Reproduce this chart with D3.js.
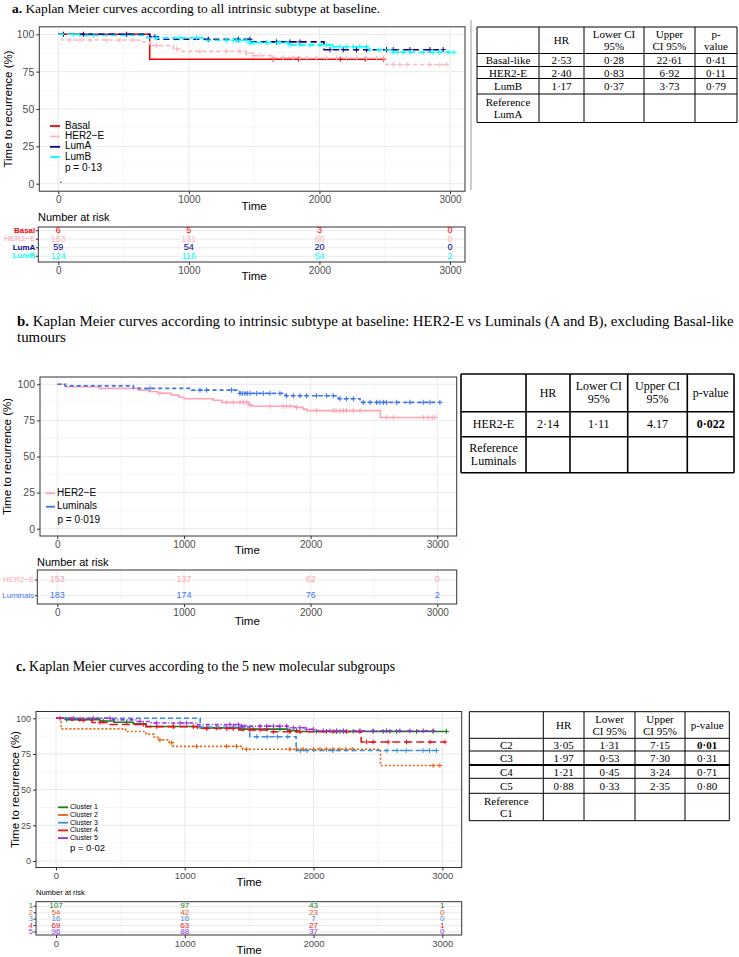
<!DOCTYPE html>
<html><head><meta charset="utf-8">
<script src="https://cdn.jsdelivr.net/npm/d3@7"></script>
<style>body{margin:0;background:#fff}svg{display:block}</style>
</head><body>
<svg id="fig" width="739" height="957"></svg>
<script>
// ---------------- DATA ----------------
const timeTicks = [0, 1000, 2000, 3000];
const timeMinor = [500, 1500, 2500];
const survTicks = [0, 25, 50, 75, 100];
const survMinor = [12.5, 37.5, 62.5, 87.5];

// Panel a
const aGroups = ["Basal", "HER2\u2212E", "LumA", "LumB"];
const aBasalSteps = [[0,100],[700,83.3]];
const aBasalCensor = [1645,1840,2160,2350,2490];
const aHer2Steps = [[0,100],[30,96.2],[620,95.0],[700,92.4],[880,90.2],[930,88.6],[1440,87.3],[1490,85.7],[1645,84.5],[1850,84.0],[2510,79.8]];
const aHer2Censor = [90,166,243,370,472,574,753,906,1085,1289,1391,1442,1493,1544,1646,1723,1799,1850,1902,1978,2055,2131,2208,2284,2361,2438,2489,2565,2616,2667,2846,2922,2973];
const aLumASteps = [[0,100],[700,98.3],[765,96.7],[1480,94.9],[2035,89.7]];
const aLumACensor = [39,192,524,740,1149,1379,1468,1672,1774,1851,2081,2182,2284,2361,2514,2565,2693,2846,2948];
const aLumBSteps = [[0,100],[160,99.2],[680,97.6],[1110,96.0],[1455,94.4],[1760,92.9],[2100,91.7],[2380,89.5],[2560,88.0]];
const aLumBCensor = [115,268,753,931,1059,1289,1340,1365,1391,1442,1470,1500,1595,1697,1774,1850,1927,2004,2055,2106,2157,2208,2259,2310,2361,2463,2565,2600,2642,2693,2795,2871,2922,2986,3030];
const aRiskBasal = [6,5,3,0];
const aRiskHer2 = [153,131,60,0];
const aRiskLumA = [59,54,20,0];
const aRiskLumB = [124,116,54,2];
const aPval = "p = 0\u00b713";

// Panel b
const bGroups = ["HER2\u2212E", "Luminals"];
const bHer2Steps = [[0,100],[70,98.3],[330,97.2],[640,96.0],[720,95.0],[790,93.8],[900,92.5],[960,91.0],[1000,90.0],[1230,89.0],[1300,87.5],[1510,85.7],[1540,84.8],[1880,84.0],[1940,82.8],[1970,81.8],[2550,77.0]];
const bHer2Censor = [810,1337,1389,1442,1470,1495,1521,1679,1784,1810,1837,1889,2047,2179,2200,2232,2260,2284,2337,2390,2600,2652,2889,2929,2960,2981];
const bLumSteps = [[0,100],[60,98.9],[600,97.2],[1060,96.0],[1440,93.7],[1800,92.1],[2220,90.0],[2390,87.5]];
const bLumCensor = [732,1126,1179,1376,1442,1460,1481,1500,1521,1574,1626,1679,1758,1810,1863,1916,1968,2047,2126,2179,2232,2284,2337,2416,2469,2521,2547,2574,2600,2679,2784,2889,2942,3021];
const bRiskHer2 = [153,137,62,0];
const bRiskLum = [183,174,76,2];
const bPval = "p = 0\u00b7019";

// Panel c
const cGroups = ["Cluster 1","Cluster 2","Cluster 3","Cluster 4","Cluster 5"];
const cRiskLabels = ["1","2","3","4","5"];
const c1Steps = [[0,100],[80,99.1],[340,98.1],[450,97.2],[600,96.2],[700,94.3],[1120,93.3],[1430,92.4],[1800,91.4],[1880,90.8]];
const c1Censor = [83,186,367,549,911,1170,1247,1377,1454,1532,1636,1739,1817,1868,2024,2101,2153,2179,2205,2231,2256,2308,2360,2463,2541,2593,2645,2800,2929,3033];
const c2Steps = [[0,100],[40,92.6],[540,90.7],[700,88.9],[760,86.9],[790,84.9],[880,82.9],[910,80.3],[1450,78.3],[2520,66.9]];
const c2Censor = [807,898,1092,1325,1402,1480,1817,1868,1920,2000,2050,2100,2150,2200,2250,2300,2929,2981];
const c3Steps = [[0,100],[1120,93.8],[1505,87.1],[1865,77.4]];
const c3Censor = [1560,1640,1720,1800,1900,1950,2150,2570,2650,2720,2850,2900,2955];
const c4Steps = [[0,100],[120,98.6],[280,97.1],[420,95.7],[700,94.2],[1100,92.8],[1420,91.9],[1650,90.6],[2370,83.4]];
const c4Censor = [31,212,342,678,782,911,1066,1170,1325,1377,1506,1584,1688,1817,1895,2412,2463,2580,2722,2904,3021];
const c5Steps = [[0,100],[420,98.9],[630,97.8],[740,96.7],[1090,95.6],[1440,94.5],[1800,93.4],[1940,92.3],[2000,91.3]];
const c5Censor = [134,290,419,652,782,963,1015,1351,1416,1441,1467,1584,1636,1688,1739,1791,1843,1895,1946,1998,2075,2127,2179,2231,2360,2463,2567,2670,2748,2852,2929];
const cRisk1 = [107,97,43,1];
const cRisk2 = [54,42,23,0];
const cRisk3 = [16,16,7,0];
const cRisk4 = [69,63,27,1];
const cRisk5 = [96,88,37,0];
const cPval = "p = 0\u00b702";

// Tables
const tabAHeader = ["", ["HR"], ["Lower CI","95%"], ["Upper","CI 95%"], ["p-","value"]];
const tabARows = [
  [["Basal-like"],["2\u00b753"],["0\u00b728"],["22\u00b761"],["0\u00b741"]],
  [["HER2-E"],["2\u00b740"],["0\u00b783"],["6\u00b792"],["0\u00b711"]],
  [["LumB"],["1\u00b717"],["0\u00b737"],["3\u00b773"],["0\u00b779"]],
  [["Reference","LumA"],[""],[""],[""],[""]]
];
const tabBHeader = ["", ["HR"], ["Lower CI","95%"], ["Upper CI","95%"], ["p-value"]];
const tabBRows = [
  [["HER2-E"],["2\u00b714"],["1\u00b711"],["4.17"],["0\u00b7022"]],
  [["Reference","Luminals"],[""],[""],[""],[""]]
];
const tabCHeader = ["", ["HR"], ["Lower","CI 95%"], ["Upper","CI 95%"], ["p-value"]];
const tabCRows = [
  [["C2"],["3\u00b705"],["1\u00b731"],["7\u00b715"],["0\u00b701"]],
  [["C3"],["1\u00b797"],["0\u00b753"],["7\u00b730"],["0\u00b731"]],
  [["C4"],["1\u00b721"],["0\u00b745"],["3\u00b724"],["0\u00b771"]],
  [["C5"],["0\u00b788"],["0\u00b733"],["2\u00b735"],["0\u00b780"]],
  [["Reference","C1"],[""],[""],[""],[""]]
];

// ---------------- DRAWING ----------------
const SANS = "'Liberation Sans', Arial, Helvetica, sans-serif";
const SERIF = "'Liberation Serif', 'Times New Roman', serif";
const svg = d3.select("#fig");

function survAt(steps, t) {
  let s = steps[0][1];
  for (const [tt, ss] of steps) { if (tt <= t) s = ss; }
  return s;
}

function drawKM(cfg) {
  const g = svg.append("g");
  const x = d3.scaleLinear().domain([0, 3000]).range([cfg.x0, cfg.x3000]);
  const y = d3.scaleLinear().domain([0, 100]).range([cfg.y0, cfg.y100]);
  const L = cfg.left, R = cfg.right, T = cfg.top, B = cfg.bottom;

  // grid
  g.selectAll(".vmin").data(timeMinor).join("line")
    .attr("x1", d => x(d)).attr("x2", d => x(d)).attr("y1", T).attr("y2", B)
    .attr("stroke", "#F0F0F0").attr("stroke-width", 0.6);
  g.selectAll(".hmin").data(survMinor).join("line")
    .attr("x1", L).attr("x2", R).attr("y1", d => y(d)).attr("y2", d => y(d))
    .attr("stroke", "#F0F0F0").attr("stroke-width", 0.6);
  g.selectAll(".vmaj").data(timeTicks).join("line")
    .attr("x1", d => x(d)).attr("x2", d => x(d)).attr("y1", T).attr("y2", B)
    .attr("stroke", "#E6E6E6").attr("stroke-width", 0.9);
  g.selectAll(".hmaj").data(survTicks).join("line")
    .attr("x1", L).attr("x2", R).attr("y1", d => y(d)).attr("y2", d => y(d))
    .attr("stroke", "#E6E6E6").attr("stroke-width", 0.9);

  const line = d3.line().x(d => x(d[0])).y(d => y(d[1])).curve(d3.curveStepAfter);
  cfg.curves.forEach(c => {
    const end = Math.max(d3.max(c.censor), c.steps[c.steps.length - 1][0]);
    const pts = c.steps.concat([[end, c.steps[c.steps.length - 1][1]]]);
    g.append("path").attr("d", line(pts)).attr("fill", "none")
      .attr("stroke", c.color).attr("stroke-width", cfg.lw)
      .attr("stroke-dasharray", c.dash || null);
    g.selectAll(null).data(c.censor).join("path")
      .attr("transform", d => `translate(${x(d)},${y(survAt(c.steps, d))})`)
      .attr("d", `M${-cfg.cs},0H${cfg.cs}M0,${-cfg.cs}V${cfg.cs}`)
      .attr("stroke", c.color).attr("stroke-width", 1);
  });

  if (cfg.originDot) {
    g.append("circle").attr("cx", x(20)).attr("cy", y(1)).attr("r", 0.7).attr("fill", "#333");
  }

  // border
  g.append("rect").attr("x", L).attr("y", T).attr("width", R - L).attr("height", B - T)
    .attr("fill", "none").attr("stroke", "#333").attr("stroke-width", 1);

  // axes
  const ay = g.append("g").attr("transform", `translate(${L},0)`)
    .call(d3.axisLeft(y).tickValues(survTicks).tickSize(3).tickPadding(2));
  ay.select(".domain").remove();
  ay.selectAll("line").attr("stroke", "#333");
  ay.selectAll("text").attr("font-family", SANS).attr("font-size", cfg.ytickFs).attr("fill", "#4D4D4D");

  const ax = g.append("g").attr("transform", `translate(0,${B})`)
    .call(d3.axisBottom(x).tickValues(timeTicks).tickSize(3).tickPadding(2).tickFormat(d3.format("d")));
  ax.select(".domain").remove();
  ax.selectAll("line").attr("stroke", "#333");
  ax.selectAll("text").attr("font-family", SANS).attr("font-size", cfg.xtickFs).attr("fill", "#4D4D4D");

  g.append("text").attr("x", (cfg.x0 + cfg.x3000) / 2).attr("y", cfg.timeY)
    .attr("text-anchor", "middle").attr("dominant-baseline", "middle")
    .attr("font-family", SANS).attr("font-size", 11.5).text("Time");

  g.append("text").attr("transform", `translate(${cfg.ylabX},${(T + B) / 2}) rotate(-90)`)
    .attr("text-anchor", "middle").attr("dominant-baseline", "middle")
    .attr("font-family", SANS).attr("font-size", cfg.ylabFs).text("Time to recurrence (%)");

  // legend
  const lg = cfg.legend;
  cfg.curves.forEach((c, i) => {
    const yy = lg.ys[i];
    g.append("line").attr("x1", lg.x1).attr("x2", lg.x2).attr("y1", yy).attr("y2", yy)
      .attr("stroke", c.color).attr("stroke-width", lg.lw);
    g.append("text").attr("x", lg.tx).attr("y", yy).attr("dominant-baseline", "middle")
      .attr("font-family", SANS).attr("font-size", lg.fs).text(c.name);
  });
  g.append("text").attr("x", lg.px).attr("y", lg.py).attr("dominant-baseline", "middle")
    .attr("font-family", SANS).attr("font-size", lg.pfs).text(cfg.pval);

  // risk table
  const rk = cfg.risk;
  g.append("text").attr("x", rk.hx).attr("y", rk.hy).attr("dominant-baseline", "middle")
    .attr("font-family", SANS).attr("font-size", rk.hfs).text("Number at risk");
  const ry = d3.scalePoint().domain(cfg.curves.map((c, i) => i)).range([rk.r0, rk.r1]);
  timeMinor.forEach(t => g.append("line").attr("x1", x(t)).attr("x2", x(t)).attr("y1", rk.top).attr("y2", rk.bottom)
    .attr("stroke", "#F0F0F0").attr("stroke-width", 0.6));
  timeTicks.forEach(t => g.append("line").attr("x1", x(t)).attr("x2", x(t)).attr("y1", rk.top).attr("y2", rk.bottom)
    .attr("stroke", "#E6E6E6").attr("stroke-width", 0.9));
  cfg.curves.forEach((c, i) => {
    g.append("line").attr("x1", rk.left).attr("x2", R).attr("y1", ry(i)).attr("y2", ry(i))
      .attr("stroke", "#E6E6E6").attr("stroke-width", 0.9);
  });
  g.append("rect").attr("x", rk.left).attr("y", rk.top).attr("width", R - rk.left).attr("height", rk.bottom - rk.top)
    .attr("fill", "none").attr("stroke", "#333").attr("stroke-width", 1);
  cfg.curves.forEach((c, i) => {
    g.selectAll(null).data(c.risk).join("text")
      .attr("x", (d, j) => x(timeTicks[j])).attr("y", ry(i))
      .attr("text-anchor", "middle").attr("dominant-baseline", "middle")
      .attr("font-family", SANS).attr("font-size", rk.nfs).attr("fill", c.color).text(d => d);
    g.append("line").attr("x1", rk.left - 2.5).attr("x2", rk.left).attr("y1", ry(i)).attr("y2", ry(i))
      .attr("stroke", "#333");
    g.append("text").attr("x", rk.left - 3).attr("y", ry(i)).attr("text-anchor", "end")
      .attr("dominant-baseline", "middle").attr("font-family", SANS).attr("font-size", rk.lfs)
      .attr("font-weight", rk.lfw || "normal")
      .attr("fill", c.color).text(c.riskLabel || c.name);
  });
  const rax = g.append("g").attr("transform", `translate(0,${rk.bottom})`)
    .call(d3.axisBottom(x).tickValues(timeTicks).tickSize(3).tickPadding(2).tickFormat(d3.format("d")));
  rax.select(".domain").remove();
  rax.selectAll("line").attr("stroke", "#333");
  rax.selectAll("text").attr("font-family", SANS).attr("font-size", cfg.xtickFs).attr("fill", "#4D4D4D");
  g.append("text").attr("x", (cfg.x0 + cfg.x3000) / 2).attr("y", rk.timeY)
    .attr("text-anchor", "middle").attr("dominant-baseline", "middle")
    .attr("font-family", SANS).attr("font-size", 11.5).text("Time");
}

function drawTable(cfg, header, rows) {
  const g = svg.append("g").attr("font-family", SERIF).attr("font-size", cfg.fs);
  const cols = cfg.cols, rws = cfg.rows;
  const all = [header].concat(rows);
  all.forEach((row, ri) => {
    row.forEach((cell, ci) => {
      const lines = Array.isArray(cell) ? cell : [cell];
      const cx = (cols[ci] + cols[ci + 1]) / 2;
      const cy = (rws[ri] + rws[ri + 1]) / 2;
      const lh = cfg.fs * 1.1;
      lines.forEach((t, k) => {
        g.append("text").attr("x", cx).attr("y", cy + (k - (lines.length - 1) / 2) * lh)
          .attr("text-anchor", "middle").attr("dominant-baseline", "central")
          .attr("font-weight", (cfg.bold && cfg.bold[0] === ri && cfg.bold[1] === ci) ? "bold" : "normal")
          .text(t);
      });
    });
  });
  rws.forEach((yy, i) => g.append("line").attr("x1", cols[0]).attr("x2", cols[cols.length - 1])
    .attr("y1", yy).attr("y2", yy).attr("stroke", "#000")
    .attr("stroke-width", (cfg.thick && cfg.thick.includes(i)) ? 2 : cfg.lw));
  cols.forEach(xx => g.append("line").attr("x1", xx).attr("x2", xx)
    .attr("y1", rws[0]).attr("y2", rws[rws.length - 1]).attr("stroke", "#000").attr("stroke-width", cfg.lw));
}

function title(x, y, bold, rest, fs) {
  const t = svg.append("text").attr("x", x).attr("y", y).attr("font-family", SERIF).attr("font-size", fs)
    .attr("dominant-baseline", "middle");
  t.append("tspan").attr("font-weight", "bold").text(bold);
  t.append("tspan").text(rest);
}

// ---------- Panel a ----------
title(12, 10, "a.", " Kaplan Meier curves according to all intrinsic subtype at baseline.", 13.4);
drawKM({
  x0: 58.3, x3000: 450, y0: 183.7, y100: 34.3,
  left: 39.3, right: 465, top: 26.8, bottom: 191.2,
  lw: 1.6, cs: 2.6, ytickFs: 10.5, xtickFs: 10, ylabX: 9, ylabFs: 11.5, timeY: 207,
  originDot: true,
  curves: [
    {name: aGroups[0], steps: aBasalSteps, censor: aBasalCensor, color: "#FF0000", risk: aRiskBasal},
    {name: aGroups[1], steps: aHer2Steps, censor: aHer2Censor, color: "#FFB6C1", dash: "4,3", risk: aRiskHer2},
    {name: aGroups[2], steps: aLumASteps, censor: aLumACensor, color: "#00008B", dash: "6,4", risk: aRiskLumA},
    {name: aGroups[3], steps: aLumBSteps, censor: aLumBCensor, color: "#00FFFF", dash: "6,3", risk: aRiskLumB}
  ],
  pval: aPval,
  legend: {x1: 50, x2: 60, tx: 65, ys: [126, 136.5, 146.8, 157], px: 65, py: 168, fs: 10, pfs: 10, lw: 1.8},
  risk: {hx: 38, hy: 218, hfs: 11, left: 38.3, top: 227, bottom: 262, r0: 230.7, r1: 256.3,
         nfs: 9, lfs: 8, lfw: "bold", timeY: 277}
});
drawTable({cols: [477, 539, 584, 644, 695, 737], rows: [27, 53.5, 66.5, 78.5, 94, 122.5], fs: 11, lw: 1}, tabAHeader, tabARows);
svg.append("line").attr("x1", 471).attr("x2", 471).attr("y1", 20).attr("y2", 190).attr("stroke", "#999");

// ---------- Panel b ----------
title(17, 323, "b.", " Kaplan Meier curves according to intrinsic subtype at baseline: HER2-E vs Luminals (A and B), excluding Basal-like", 14.9);
svg.append("text").attr("x", 17).attr("y", 339).attr("font-family", SERIF).attr("font-size", 14.9)
  .attr("dominant-baseline", "middle").text("tumours");
drawKM({
  x0: 57.3, x3000: 437.3, y0: 528.7, y100: 384.3,
  left: 40, right: 456.7, top: 377, bottom: 536,
  lw: 1.6, cs: 2.6, ytickFs: 10.5, xtickFs: 10, ylabX: 8, ylabFs: 11.5, timeY: 551,
  curves: [
    {name: bGroups[0], steps: bHer2Steps, censor: bHer2Censor, color: "#FFA3B5", risk: bRiskHer2},
    {name: bGroups[1], steps: bLumSteps, censor: bLumCensor, color: "#3C73F0", dash: "4,3", risk: bRiskLum}
  ],
  pval: bPval,
  legend: {x1: 46, x2: 55, tx: 57, ys: [493.3, 506.7], px: 57.5, py: 520.7, fs: 10, pfs: 10, lw: 1.8},
  risk: {hx: 37, hy: 562.7, hfs: 11, left: 37.3, top: 570, bottom: 604, r0: 580, r1: 595.7,
         nfs: 9, lfs: 8, timeY: 622}
});
drawTable({cols: [461, 526, 570, 627.7, 687.3, 734], rows: [374, 411.7, 436.7, 472.7], fs: 12, lw: 1.6, bold: [1, 4]}, tabBHeader, tabBRows);

// ---------- Panel c ----------
title(16, 668, "c.", " Kaplan Meier curves according to the 5 new molecular subgroups", 13.9);
drawKM({
  x0: 56, x3000: 442.3, y0: 861, y100: 718.3,
  left: 36, right: 461.7, top: 711.5, bottom: 867.5,
  lw: 1.6, cs: 2.4, ytickFs: 9, xtickFs: 9.5, ylabX: 16, ylabFs: 11.5, timeY: 883,
  curves: [
    {name: cGroups[0], riskLabel: cRiskLabels[0], steps: c1Steps, censor: c1Censor, color: "#1E7B1E", risk: cRisk1},
    {name: cGroups[1], riskLabel: cRiskLabels[1], steps: c2Steps, censor: c2Censor, color: "#E8620F", dash: "2,2", risk: cRisk2},
    {name: cGroups[2], riskLabel: cRiskLabels[2], steps: c3Steps, censor: c3Censor, color: "#3A8EDC", dash: "5,3", risk: cRisk3},
    {name: cGroups[3], riskLabel: cRiskLabels[3], steps: c4Steps, censor: c4Censor, color: "#E8141C", dash: "8,4", risk: cRisk4},
    {name: cGroups[4], riskLabel: cRiskLabels[4], steps: c5Steps, censor: c5Censor, color: "#9B2FE0", dash: "1,2,4,2", risk: cRisk5}
  ],
  pval: cPval,
  legend: {x1: 58, x2: 68, tx: 70, ys: [807.3, 815, 822.7, 830.4, 838.1], px: 70, py: 848, fs: 7, pfs: 9.5, lw: 1.8},
  risk: {hx: 36, hy: 893.5, hfs: 7.5, left: 36, top: 901.7, bottom: 935, r0: 906.3, r1: 932,
         nfs: 8, lfs: 7.5, timeY: 950.5}
});
drawTable({cols: [469.3, 543.3, 584, 635, 685, 729.3], rows: [711.7, 738.3, 751, 765, 778.3, 793.3, 820.7], fs: 11, lw: 1, bold: [1, 4], thick: [3]}, tabCHeader, tabCRows);
</script>
</body></html>
